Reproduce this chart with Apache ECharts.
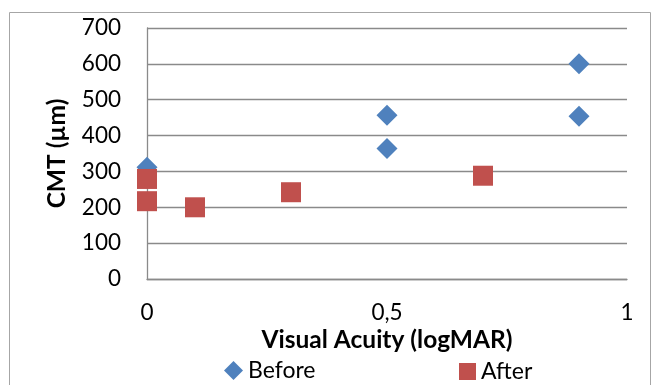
<!DOCTYPE html>
<html>
<head>
<meta charset="utf-8">
<script src="https://cdn.jsdelivr.net/npm/echarts@6/dist/echarts.min.js"></script>
<style>html,body{margin:0;padding:0;background:#fff;}#c{width:661px;height:385px;}</style>
</head>
<body>
<div id="c"></div>
<script>
const seriesNames = ['Before', 'After'];
const beforeX = [0, 0.5, 0.5, 0.9, 0.9];
const beforeY = [312, 457, 364, 600, 454];
const afterX = [0, 0, 0.1, 0.3, 0.7];
const afterY = [279, 217, 200, 242, 288];
const xTicks = [0, 0.5, 1];
const yTicks = [0, 100, 200, 300, 400, 500, 600, 700];
const xTitle = 'Visual Acuity (logMAR)';
const yTitle = 'CMT (µm)';

const FONT = 'Lato';
const pairs = (xs, ys) => xs.map((x, i) => [x, ys[i]]);
const chart = echarts.init(document.getElementById('c'), null, {renderer: 'canvas'});
chart.setOption({
  animation: false,
  backgroundColor: '#fff',
  graphic: [{
    type: 'rect', shape: {x: 9.5, y: 12.5, width: 641, height: 400},
    style: {fill: 'none', stroke: '#a6a6a6', lineWidth: 1}, z: -1
  }, {
    type: 'text', x: 57, y: 153.5, rotation: Math.PI / 2,
    style: {text: yTitle, fontFamily: FONT, fontWeight: 'bold', fontSize: 24.5, fill: '#000',
      align: 'center', verticalAlign: 'middle'}
  }],
  grid: {left: 147, right: 34, top: 28, bottom: 106},
  xAxis: {
    type: 'value', min: xTicks[0], max: xTicks[xTicks.length - 1], interval: 0.5,
    name: xTitle, nameLocation: 'middle', nameGap: 49, nameMoveOverlap: false,
    nameTextStyle: {fontFamily: FONT, fontWeight: 'bold', fontSize: 24.5, color: '#000'},
    axisLine: {show: true, lineStyle: {color: '#8a8a8a', width: 1.3}},
    axisTick: {show: false},
    splitLine: {show: false},
    axisLabel: {fontFamily: FONT, fontSize: 22.5, color: '#000', margin: 22,
      formatter: v => String(v).replace('.', ',')}
  },
  yAxis: {
    type: 'value', min: yTicks[0], max: yTicks[yTicks.length - 1], interval: 100,
    axisLine: {show: true, lineStyle: {color: '#8a8a8a', width: 1.3}},
    axisTick: {show: false},
    splitLine: {show: true, lineStyle: {color: '#8a8a8a', width: 1.3}},
    axisLabel: {fontFamily: FONT, fontSize: 22.5, color: '#000', margin: 26}
  },
  legend: [{
    data: [seriesNames[0]], left: 219, top: 354, itemWidth: 19, itemHeight: 19, itemGap: 6,
    textStyle: {fontFamily: FONT, fontSize: 23, color: '#000'}
  }, {
    data: [seriesNames[1]], left: 454, top: 355, itemWidth: 17, itemHeight: 17, itemGap: 6,
    textStyle: {fontFamily: FONT, fontSize: 23, color: '#000'}
  }],
  series: [{
    name: seriesNames[0], type: 'scatter', symbol: 'diamond', symbolSize: 21,
    itemStyle: {color: '#4F81BD', opacity: 1},
    data: pairs(beforeX, beforeY), z: 2
  }, {
    name: seriesNames[1], type: 'scatter', symbol: 'rect', symbolSize: 20,
    itemStyle: {color: '#C0504D', opacity: 1},
    data: pairs(afterX, afterY), z: 3
  }]
});
</script>
</body>
</html>
